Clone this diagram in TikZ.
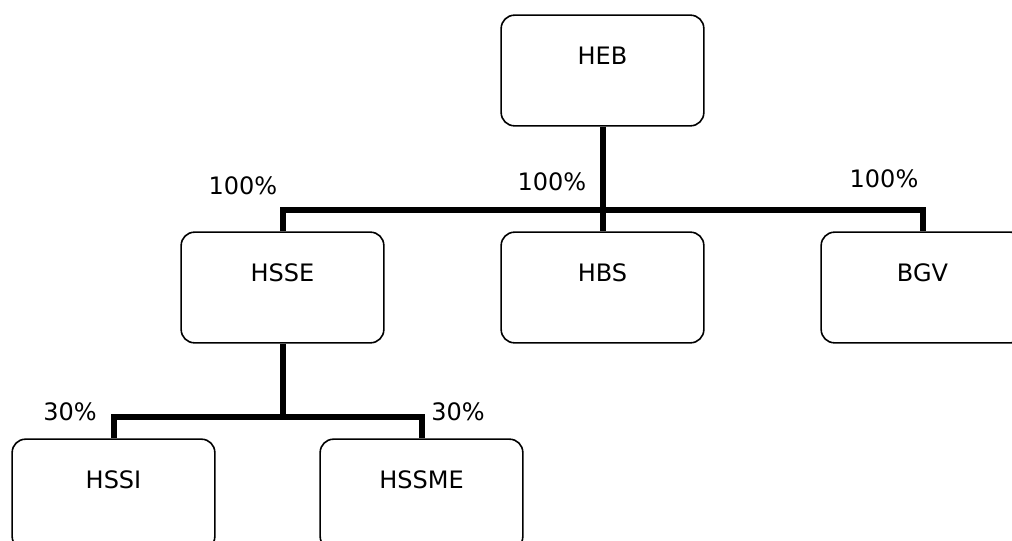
\documentclass[tikz,border=0pt]{standalone}
\usepackage{fontspec}
\setmainfont{DejaVu Sans}
\begin{document}
\begin{tikzpicture}[x=0.75pt,y=-0.75pt,
  box/.style={draw=black,line width=1.2pt,rounded corners=10pt,fill=white,
    minimum width=152pt,minimum height=83pt,inner sep=0pt,
    text height=13.3pt,text depth=21.9pt,font=\fontsize{18}{20}\selectfont},
  conn/.style={line width=4.5pt,black},
  pct/.style={inner sep=0pt,font=\fontsize{18}{20}\selectfont}]
\useasboundingbox (0,0) rectangle (1012,540);
\node[box] (HEB)   at (602.5,70.5) {HEB};
\node[box] (HSSE)  at (282.5,287.5) {HSSE};
\node[box] (HBS)   at (602.5,287.5) {HBS};
\node[box] (BGV)   at (922.5,287.5) {BGV};
\node[box] (HSSI)  at (113.5,494.5) {HSSI};
\node[box] (HSSME) at (421.5,494.5) {HSSME};
\draw[conn] (HEB.south) -- (HBS.north);
\draw[conn] (HSSE.north) -- ++(0,-21) -| (BGV.north);
\draw[conn] (HSSE.south) -- ++(0,73) coordinate (mid);
\draw[conn] (HSSI.north) |- (mid) -| (HSSME.north);
\node[pct] (p1) at (243,186) {100\%};
\node[pct] (p2) at (552,182) {100\%};
\node[pct] (p3) at (884,179) {100\%};
\node[pct] (p4) at (70,412) {30\%};
\node[pct] (p5) at (458,412) {30\%};
\end{tikzpicture}
\end{document}
